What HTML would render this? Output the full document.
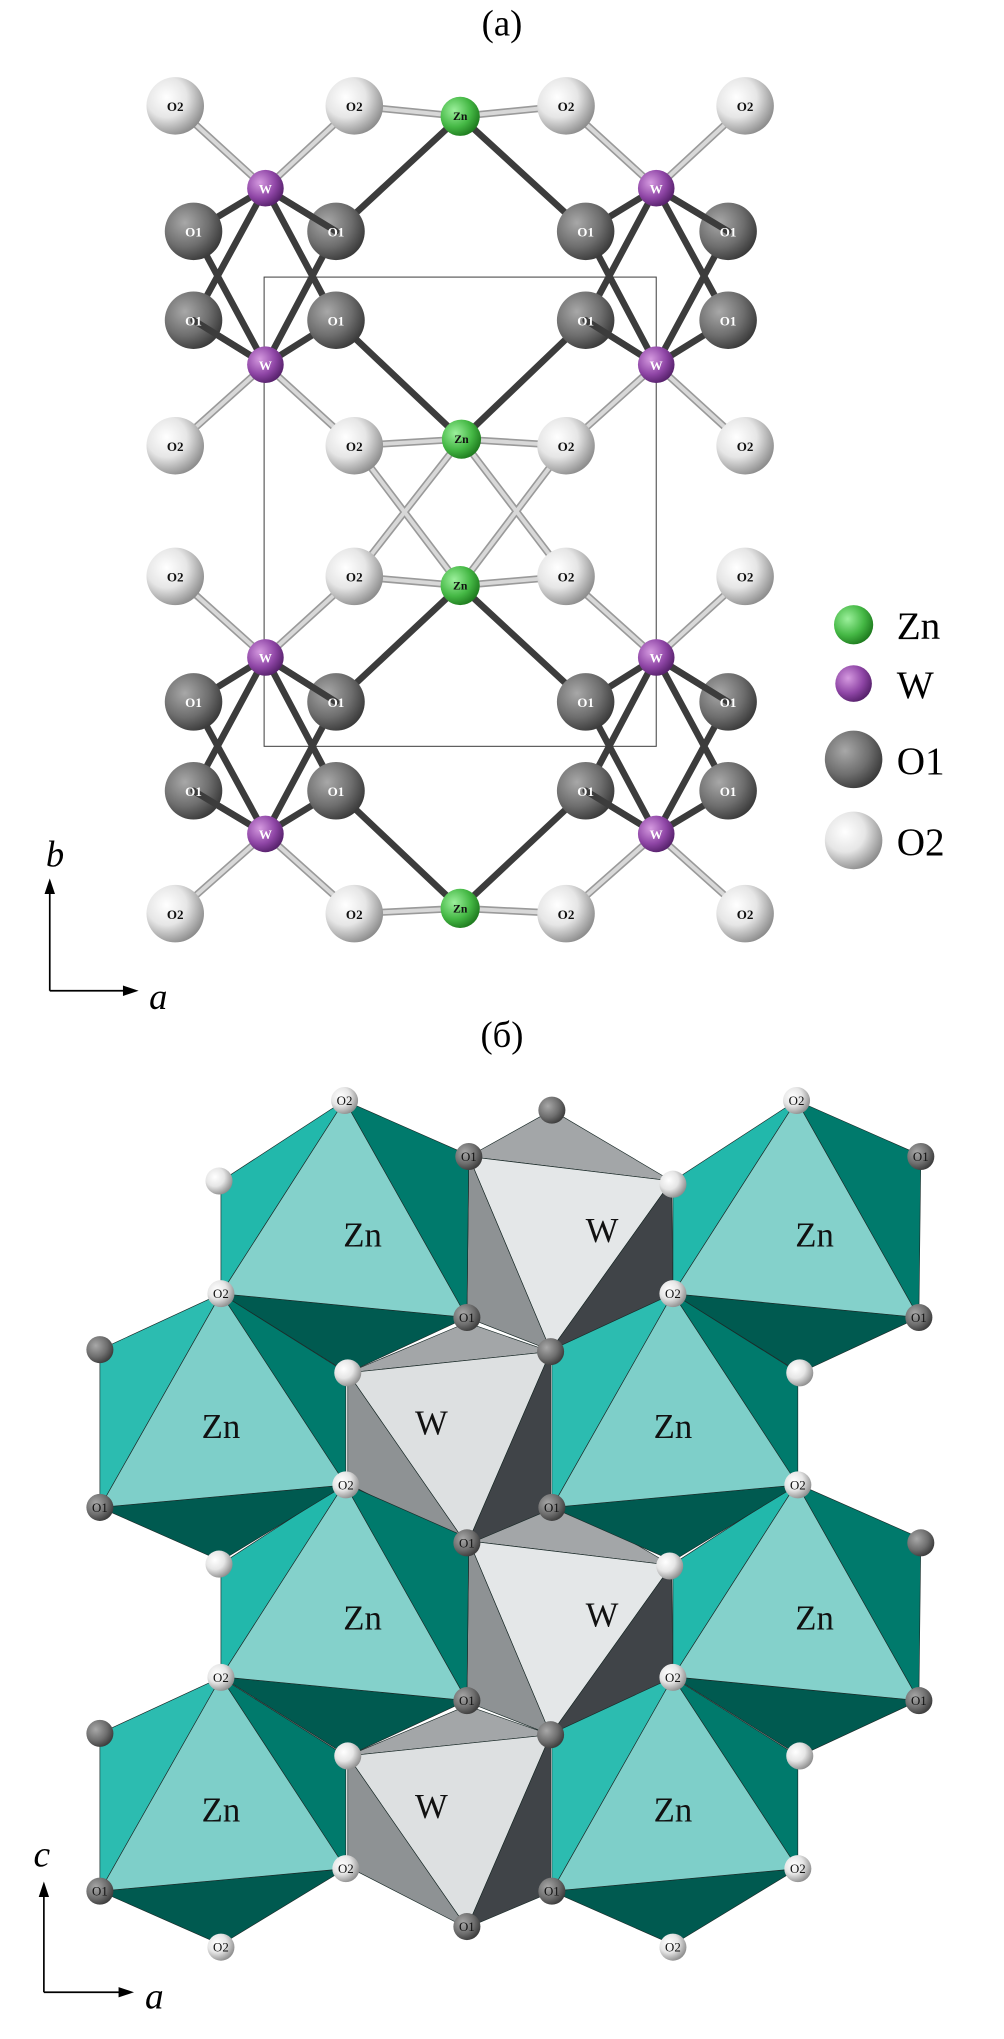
<!DOCTYPE html>
<html><head><meta charset="utf-8"><style>html,body{margin:0;padding:0;background:#fff}svg{display:block}</style></head>
<body>
<svg width="1004" height="2039" viewBox="0 0 768 1560" xmlns="http://www.w3.org/2000/svg">
<defs>
<radialGradient id="gO2" cx="35%" cy="35%" r="70%"><stop offset="0" stop-color="#fff"/><stop offset="0.5" stop-color="#e6e6e6"/><stop offset="1" stop-color="#8c8c8c"/></radialGradient>
<radialGradient id="gO1" cx="35%" cy="35%" r="70%"><stop offset="0" stop-color="#a8a8a8"/><stop offset="0.6" stop-color="#6e6e6e"/><stop offset="1" stop-color="#3a3a3a"/></radialGradient>
<radialGradient id="gZn" cx="35%" cy="35%" r="70%"><stop offset="0" stop-color="#9cf09c"/><stop offset="0.6" stop-color="#45b845"/><stop offset="1" stop-color="#1e7a1e"/></radialGradient>
<radialGradient id="gW" cx="35%" cy="35%" r="70%"><stop offset="0" stop-color="#d59ae0"/><stop offset="0.6" stop-color="#8f46a6"/><stop offset="1" stop-color="#55206a"/></radialGradient>
</defs>
<text x="384" y="27" font-family="Liberation Serif, serif" font-size="28" text-anchor="middle">(a)</text>
<rect x="202" y="212" width="300" height="359" fill="none" stroke="#444" stroke-width="0.8"/>
<g stroke="#9a9a9a" stroke-width="5.5" stroke-linecap="round">
<path d="M203 144L134 81M203 144L271 81M502 144L433 81M502 144L570 81M352 89L271 81M352 89L433 81M203 279L134 341M203 279L271 341M502 279L433 341M502 279L570 341M353 336L271 341M353 336L433 341M353 336L271 441M353 336L433 441M352 448L271 441M352 448L433 441M352 448L271 341M352 448L433 341M203 503L134 441M203 503L271 441M502 503L433 441M502 503L570 441M203 638L134 699M203 638L271 699M502 638L433 699M502 638L570 699M352 695L271 699M352 695L433 699"/>
</g>
<g stroke="#d8d8d8" stroke-width="3" stroke-linecap="round">
<path d="M203 144L134 81M203 144L271 81M502 144L433 81M502 144L570 81M352 89L271 81M352 89L433 81M203 279L134 341M203 279L271 341M502 279L433 341M502 279L570 341M353 336L271 341M353 336L433 341M353 336L271 441M353 336L433 441M352 448L271 441M352 448L433 441M352 448L271 341M352 448L433 341M203 503L134 441M203 503L271 441M502 503L433 441M502 503L570 441M203 638L134 699M203 638L271 699M502 638L433 699M502 638L570 699M352 695L271 699M352 695L433 699"/>
</g>
<g stroke="#3c3c3c" stroke-width="5" stroke-linecap="round">
<path d="M203 144L148 177M203 144L257 177M203 144L148 245M203 144L257 245M203 279L148 177M203 279L257 177M203 279L148 245M203 279L257 245M502 144L448 177M502 144L557 177M502 144L448 245M502 144L557 245M502 279L448 177M502 279L557 177M502 279L448 245M502 279L557 245M352 89L257 177M352 89L448 177M353 336L257 245M353 336L448 245M352 448L257 537M352 448L448 537M352 695L257 605M352 695L448 605M203 503L148 537M203 503L257 537M203 503L148 605M203 503L257 605M203 638L148 537M203 638L257 537M203 638L148 605M203 638L257 605M502 503L448 537M502 503L557 537M502 503L448 605M502 503L557 605M502 638L448 537M502 638L557 537M502 638L448 605M502 638L557 605"/>
</g>
<g font-family="Liberation Serif, serif" font-weight="bold" font-size="10" text-anchor="middle">
<g fill="url(#gO2)"><circle cx="134" cy="81" r="22"/><circle cx="271" cy="81" r="22"/><circle cx="433" cy="81" r="22"/><circle cx="570" cy="81" r="22"/><circle cx="134" cy="341" r="22"/><circle cx="271" cy="341" r="22"/><circle cx="433" cy="341" r="22"/><circle cx="570" cy="341" r="22"/><circle cx="134" cy="441" r="22"/><circle cx="271" cy="441" r="22"/><circle cx="433" cy="441" r="22"/><circle cx="570" cy="441" r="22"/><circle cx="134" cy="699" r="22"/><circle cx="271" cy="699" r="22"/><circle cx="433" cy="699" r="22"/><circle cx="570" cy="699" r="22"/></g>
<g fill="#111"><text x="134" y="85">O2</text><text x="271" y="85">O2</text><text x="433" y="85">O2</text><text x="570" y="85">O2</text><text x="134" y="345">O2</text><text x="271" y="345">O2</text><text x="433" y="345">O2</text><text x="570" y="345">O2</text><text x="134" y="445">O2</text><text x="271" y="445">O2</text><text x="433" y="445">O2</text><text x="570" y="445">O2</text><text x="134" y="703">O2</text><text x="271" y="703">O2</text><text x="433" y="703">O2</text><text x="570" y="703">O2</text></g>
<g fill="url(#gO1)"><circle cx="148" cy="177" r="22"/><circle cx="257" cy="177" r="22"/><circle cx="448" cy="177" r="22"/><circle cx="557" cy="177" r="22"/><circle cx="148" cy="245" r="22"/><circle cx="257" cy="245" r="22"/><circle cx="448" cy="245" r="22"/><circle cx="557" cy="245" r="22"/><circle cx="148" cy="537" r="22"/><circle cx="257" cy="537" r="22"/><circle cx="448" cy="537" r="22"/><circle cx="557" cy="537" r="22"/><circle cx="148" cy="605" r="22"/><circle cx="257" cy="605" r="22"/><circle cx="448" cy="605" r="22"/><circle cx="557" cy="605" r="22"/></g>
<g stroke="#3c3c3c" stroke-width="5" stroke-linecap="round"><path d="M203 144L257 177M502 144L557 177M203 503L257 537M502 503L557 537M203 279L148 245M502 279L448 245M203 638L148 605M502 638L448 605"/></g>
<g fill="#fff"><text x="148" y="181">O1</text><text x="257" y="181">O1</text><text x="448" y="181">O1</text><text x="557" y="181">O1</text><text x="148" y="249">O1</text><text x="257" y="249">O1</text><text x="448" y="249">O1</text><text x="557" y="249">O1</text><text x="148" y="541">O1</text><text x="257" y="541">O1</text><text x="448" y="541">O1</text><text x="557" y="541">O1</text><text x="148" y="609">O1</text><text x="257" y="609">O1</text><text x="448" y="609">O1</text><text x="557" y="609">O1</text></g>
<g fill="url(#gZn)"><circle cx="352" cy="89" r="15"/><circle cx="353" cy="336" r="15"/><circle cx="352" cy="448" r="15"/><circle cx="352" cy="695" r="15"/></g>
<g fill="url(#gW)"><circle cx="203" cy="144" r="14"/><circle cx="502" cy="144" r="14"/><circle cx="203" cy="279" r="14"/><circle cx="502" cy="279" r="14"/><circle cx="203" cy="503" r="14"/><circle cx="502" cy="503" r="14"/><circle cx="203" cy="638" r="14"/><circle cx="502" cy="638" r="14"/></g>
<g fill="#111" font-size="9"><text x="352" y="92">Zn</text><text x="353" y="339">Zn</text><text x="352" y="451">Zn</text><text x="352" y="698">Zn</text></g>
<g fill="#fff" font-size="10"><text x="203" y="148">W</text><text x="502" y="148">W</text><text x="203" y="283">W</text><text x="502" y="283">W</text><text x="203" y="507">W</text><text x="502" y="507">W</text><text x="203" y="642">W</text><text x="502" y="642">W</text></g>
</g>
<circle cx="653" cy="478" r="15" fill="url(#gZn)"/><circle cx="653" cy="523" r="14" fill="url(#gW)"/><circle cx="653" cy="581" r="22" fill="url(#gO1)"/><circle cx="653" cy="643" r="22" fill="url(#gO2)"/>
<g font-family="Liberation Serif, serif" font-size="30"><text x="686" y="489">Zn</text><text x="686" y="534">W</text><text x="686" y="592">O1</text><text x="686" y="654">O2</text></g>
<g stroke="#000" stroke-width="1.3" fill="none"><path d="M38 758V680M38 758H98"/></g>
<path d="M38 672L34 684L42 684Z M106 758L94 754L94 762Z" fill="#000"/>
<g font-family="Liberation Serif, serif" font-style="italic" font-size="28"><text x="35" y="663">b</text><text x="114" y="772">a</text></g>

<text x="384" y="801" font-family="Liberation Serif, serif" font-size="28" text-anchor="middle">(б)</text>
<g transform="translate(0,780.4) scale(0.4926)" stroke="#1a2a28" stroke-width="1" stroke-linejoin="round">
<polygon points="728,212 857,140 1043,250" fill="#a3a6a8"/><polygon points="728,212 1043,250 855,513" fill="#e4e7e8"/><polygon points="728,212 855,513 725,462" fill="#8e9294"/><polygon points="1043,250 1045,438 855,513" fill="#404448"/>
<polygon points="728,809 857,737 1043,847" fill="#a3a6a8"/><polygon points="728,809 1043,847 855,1110" fill="#e4e7e8"/><polygon points="728,809 855,1110 725,1059" fill="#8e9294"/><polygon points="1043,847 1045,1035 855,1110" fill="#404448"/>
<polygon points="540,548 725,470 855,515" fill="#a3a6a8"/><polygon points="540,548 855,515 725,815" fill="#dde0e1"/><polygon points="540,548 725,815 540,720" fill="#8e9294"/><polygon points="855,515 855,760 725,815" fill="#404448"/>
<polygon points="540,1143 725,1065 855,1110" fill="#a3a6a8"/><polygon points="540,1143 855,1110 725,1410" fill="#dde0e1"/><polygon points="540,1143 725,1410 540,1315" fill="#8e9294"/><polygon points="855,1110 855,1355 725,1410" fill="#404448"/>
<g>
<polygon points="535,125 343,250 343,425" fill="#22b8ab"/><polygon points="535,125 728,210 725,462" fill="#007a6c"/><polygon points="343,425 725,462 540,548" fill="#005a50"/><polygon points="535,125 343,425 725,462" fill="#84d1cb"/>
<polygon points="1237,125 1045,250 1045,425" fill="#22b8ab"/><polygon points="1237,125 1430,210 1427,462" fill="#007a6c"/><polygon points="1045,425 1427,462 1242,548" fill="#005a50"/><polygon points="1237,125 1045,425 1427,462" fill="#84d1cb"/>
<polygon points="535,720 343,845 343,1020" fill="#22b8ab"/><polygon points="535,720 728,805 725,1057" fill="#007a6c"/><polygon points="343,1020 725,1057 540,1143" fill="#005a50"/><polygon points="535,720 343,1020 725,1057" fill="#84d1cb"/>
<polygon points="1237,720 1045,845 1045,1020" fill="#22b8ab"/><polygon points="1237,720 1430,805 1427,1057" fill="#007a6c"/><polygon points="1045,1020 1427,1057 1242,1143" fill="#005a50"/><polygon points="1237,720 1045,1020 1427,1057" fill="#84d1cb"/>
</g>
<g>
<polygon points="343,425 155,512 155,757" fill="#2cbcb0"/><polygon points="343,425 537,547 537,722" fill="#007a6c"/><polygon points="155,757 537,722 343,840" fill="#005a50"/><polygon points="343,425 155,757 537,722" fill="#7ecfc9"/>
<polygon points="1045,425 857,512 857,757" fill="#2cbcb0"/><polygon points="1045,425 1239,547 1239,722" fill="#007a6c"/><polygon points="857,757 1239,722 1045,840" fill="#005a50"/><polygon points="1045,425 857,757 1239,722" fill="#7ecfc9"/>
<polygon points="343,1021 155,1108 155,1353" fill="#2cbcb0"/><polygon points="343,1021 537,1143 537,1318" fill="#007a6c"/><polygon points="155,1353 537,1318 343,1436" fill="#005a50"/><polygon points="343,1021 155,1353 537,1318" fill="#7ecfc9"/>
<polygon points="1045,1021 857,1108 857,1353" fill="#2cbcb0"/><polygon points="1045,1021 1239,1143 1239,1318" fill="#007a6c"/><polygon points="857,1353 1239,1318 1045,1436" fill="#005a50"/><polygon points="1045,1021 857,1353 1239,1318" fill="#7ecfc9"/>
</g>
<g stroke="none">
<g fill="url(#gO2)"><circle cx="535" cy="125" r="21"/><circle cx="1237" cy="125" r="21"/><circle cx="340" cy="250" r="21"/><circle cx="1045" cy="255" r="21"/><circle cx="343" cy="425" r="21"/><circle cx="1045" cy="425" r="21"/><circle cx="540" cy="548" r="21"/><circle cx="1242" cy="548" r="21"/><circle cx="537" cy="722" r="21"/><circle cx="1239" cy="722" r="21"/><circle cx="340" cy="845" r="21"/><circle cx="1040" cy="848" r="21"/><circle cx="343" cy="1021" r="21"/><circle cx="1045" cy="1021" r="21"/><circle cx="540" cy="1143" r="21"/><circle cx="1242" cy="1143" r="21"/><circle cx="537" cy="1318" r="21"/><circle cx="1239" cy="1318" r="21"/><circle cx="343" cy="1440" r="21"/><circle cx="1045" cy="1440" r="21"/></g>
<g fill="url(#gO1)"><circle cx="857" cy="140" r="21"/><circle cx="728" cy="212" r="21"/><circle cx="1430" cy="212" r="21"/><circle cx="725" cy="462" r="21"/><circle cx="1427" cy="462" r="21"/><circle cx="155" cy="512" r="21"/><circle cx="855" cy="515" r="21"/><circle cx="155" cy="757" r="21"/><circle cx="857" cy="757" r="21"/><circle cx="725" cy="812" r="21"/><circle cx="1430" cy="812" r="21"/><circle cx="725" cy="1057" r="21"/><circle cx="1427" cy="1057" r="21"/><circle cx="155" cy="1108" r="21"/><circle cx="855" cy="1110" r="21"/><circle cx="155" cy="1353" r="21"/><circle cx="857" cy="1353" r="21"/><circle cx="725" cy="1408" r="21"/></g>
<g font-family="Liberation Serif, serif" font-size="20" text-anchor="middle" fill="#111">
<text x="535" y="132">O2</text><text x="1237" y="132">O2</text><text x="343" y="432">O2</text><text x="1045" y="432">O2</text><text x="537" y="729">O2</text><text x="1239" y="729">O2</text><text x="343" y="1028">O2</text><text x="1045" y="1028">O2</text><text x="537" y="1325">O2</text><text x="1239" y="1325">O2</text><text x="343" y="1447">O2</text><text x="1045" y="1447">O2</text>
<text x="728" y="219">O1</text><text x="1430" y="219">O1</text><text x="725" y="469">O1</text><text x="1427" y="469">O1</text><text x="155" y="764">O1</text><text x="857" y="764">O1</text><text x="725" y="819">O1</text><text x="725" y="1064">O1</text><text x="1427" y="1064">O1</text><text x="155" y="1360">O1</text><text x="857" y="1360">O1</text><text x="725" y="1415">O1</text>
</g>
<g font-family="Liberation Serif, serif" font-size="54" text-anchor="middle" fill="#111">
<text x="563" y="352">Zn</text><text x="1265" y="352">Zn</text><text x="343" y="649">Zn</text><text x="1045" y="649">Zn</text><text x="563" y="947">Zn</text><text x="1265" y="947">Zn</text><text x="343" y="1245">Zn</text><text x="1045" y="1245">Zn</text>
<text x="935" y="345">W</text><text x="670" y="644">W</text><text x="935" y="942">W</text><text x="670" y="1239">W</text>
</g>
</g>
<g stroke="#000" stroke-width="2.6" fill="none"><path d="M68 1510V1355M68 1510H190"/></g>
<path d="M68 1338L60 1362L76 1362Z M208 1510L184 1502L184 1518Z" fill="#000" stroke="none"/>
<g font-family="Liberation Serif, serif" font-style="italic" font-size="58" stroke="none"><text x="52" y="1315">c</text><text x="225" y="1535">a</text></g>
</g>
</svg>
</body></html>
